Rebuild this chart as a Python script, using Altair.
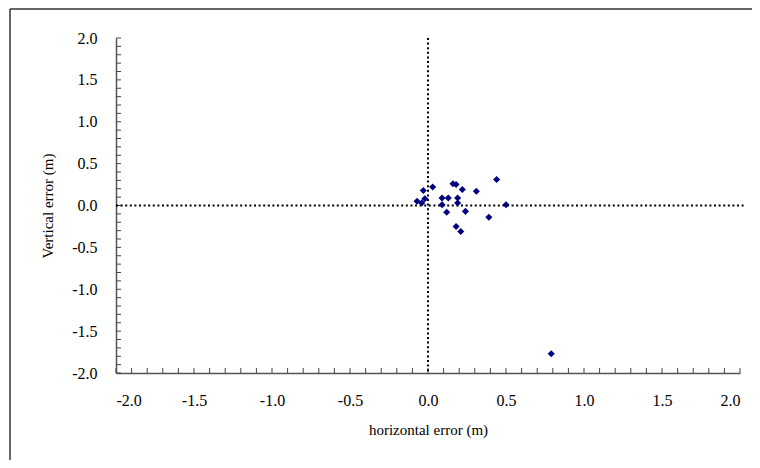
import altair as alt
import pandas as pd

horizontal_error = [0.44, 0.50, 0.03, -0.03, -0.07, -0.02, -0.04, 0.16, 0.18, 0.22, 0.31,
                    0.09, 0.13, 0.19, 0.19, 0.09, 0.12, 0.24, 0.39, 0.18, 0.21, 0.79]
vertical_error = [0.31, 0.01, 0.22, 0.18, 0.05, 0.08, 0.03, 0.26, 0.25, 0.19, 0.17,
                  0.09, 0.09, 0.09, 0.03, 0.01, -0.08, -0.07, -0.14, -0.25, -0.31, -1.77]
tick_values = [round(-2.0 + 0.1 * i, 1) for i in range(41)]
label_values = [-2.0, -1.5, -1.0, -0.5, 0.0, 0.5, 1.0, 1.5, 2.0]

W, H = 624, 335
FONT = "Liberation Serif, Times New Roman, DejaVu Serif, serif"
LABEL_EXPR = "replace(format(datum.value, '.1f'), '\u2212', '-')"

pts = pd.DataFrame({"h": horizontal_error, "v": vertical_error})
ticks = pd.DataFrame({"t": tick_values})

xs = alt.Scale(domain=[-2, 2], nice=False, zero=False)
ys = alt.Scale(domain=[-2, 2], nice=False, zero=False)

xaxis = alt.Axis(values=label_values, labelExpr=LABEL_EXPR, title="horizontal error (m)",
                 grid=False, ticks=False, domainColor="#555555", domainWidth=1.5,
                 labelFont=FONT, labelFontSize=16, labelColor="black", labelPadding=19,
                 titleFont=FONT, titleFontSize=15, titleFontWeight="normal",
                 titleColor="black", titlePadding=14)
yaxis = alt.Axis(values=label_values, labelExpr=LABEL_EXPR, title="Vertical error (m)",
                 grid=False, ticks=False, domainColor="#555555", domainWidth=1.5,
                 labelFont=FONT, labelFontSize=16, labelColor="black", labelPadding=19,
                 titleFont=FONT, titleFontSize=15, titleFontWeight="normal",
                 titleColor="black", titlePadding=16)

points = alt.Chart(pts).mark_point(shape="diamond", filled=True, color="#000080",
                                   size=50, opacity=1).encode(
    x=alt.X("h:Q", scale=xs, axis=xaxis),
    y=alt.Y("v:Q", scale=ys, axis=yaxis),
)

hline = alt.Chart(pd.DataFrame({"v": [0.0]})).mark_rule(
    color="black", strokeDash=[2, 2.6], strokeWidth=2).encode(
    y=alt.Y("v:Q", scale=ys), x=alt.value(0), x2=alt.value(W + 5))
vline = alt.Chart(pd.DataFrame({"h": [0.0]})).mark_rule(
    color="black", strokeDash=[2, 2.6], strokeWidth=2).encode(
    x=alt.X("h:Q", scale=xs), y=alt.value(0), y2=alt.value(H))

xticks = alt.Chart(ticks).mark_rule(color="#444444", strokeWidth=1).encode(
    x=alt.X("t:Q", scale=xs), y=alt.value(H), y2=alt.value(H - 5))
yticks = alt.Chart(ticks).mark_rule(color="#444444", strokeWidth=1).encode(
    y=alt.Y("t:Q", scale=ys), x=alt.value(0), x2=alt.value(5))

border_left = alt.Chart(pd.DataFrame({"a": [0]})).mark_rule(
    color="#333333", strokeWidth=1.5, clip=False).encode(
    x=alt.value(-106), y=alt.value(-29), y2=alt.value(430))
border_top = alt.Chart(pd.DataFrame({"a": [0]})).mark_rule(
    color="#333333", strokeWidth=1.5, clip=False).encode(
    y=alt.value(-29), x=alt.value(-106), x2=alt.value(660))

chart = alt.layer(border_left, border_top, xticks, yticks, hline, vline, points).properties(
    width=W, height=H,
    autosize=alt.AutoSizeParams(type="none"),
    padding={"left": 108, "top": 30, "right": 12, "bottom": 87},
).configure_view(stroke=None)

chart.save("out.html", embed_options={"renderer": "svg", "actions": False})
